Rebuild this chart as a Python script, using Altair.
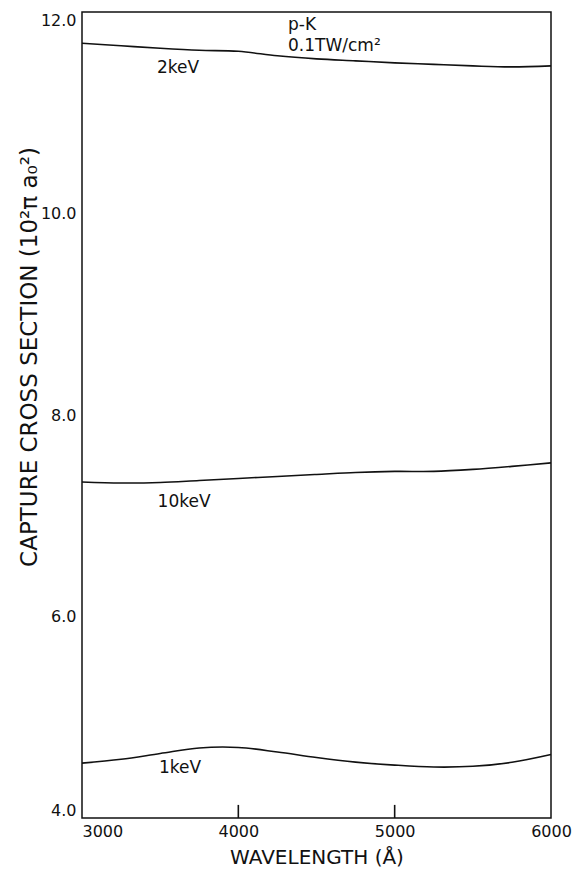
import altair as alt
import pandas as pd

# Wavelength grid (Å) shared by the three curves
wavelength = [3000, 3250, 3500, 3750, 4000, 4250, 4500, 4750, 5000, 5250, 5500, 5750, 6000]

# Capture cross section (10²πa₀²) for each collision energy
sigma_2kev = [11.69, 11.665, 11.64, 11.62, 11.61, 11.565, 11.535, 11.515, 11.495, 11.48, 11.465, 11.455, 11.465]
sigma_10kev = [7.335, 7.325, 7.33, 7.35, 7.37, 7.39, 7.41, 7.43, 7.44, 7.44, 7.46, 7.49, 7.525]
sigma_1kev = [4.545, 4.583, 4.64, 4.695, 4.70, 4.655, 4.60, 4.555, 4.525, 4.506, 4.513, 4.553, 4.63]

energies = ["2keV", "10keV", "1keV"]
x_ticks = [3000, 4000, 5000, 6000]
y_ticks = [4.0, 6.0, 8.0, 10.0, 12.0]
inner_ticks = [4000, 5000]

rows = []
for name, series in zip(energies, [sigma_2kev, sigma_10kev, sigma_1kev]):
    for w, s in zip(wavelength, series):
        rows.append({"energy": name, "wavelength": w, "sigma": s})
df = pd.DataFrame(rows)

FONT = "DejaVu Sans"
INK = "#111111"
W, H = 469, 806

x_scale = alt.Scale(domain=[3000, 6000], nice=False, zero=False)
y_scale = alt.Scale(domain=[4, 12], nice=False, zero=False)

base = alt.Chart(df)

curves = base.mark_line(color=INK, strokeWidth=1.6, interpolate="catmull-rom").encode(
    x=alt.X(
        "wavelength:Q",
        scale=x_scale,
        axis=alt.Axis(
            values=x_ticks,
            format="d",
            title="WAVELENGTH (Å)",
            domain=False,
            ticks=False,
            grid=False,
            labelFont=FONT,
            labelFontSize=16,
            labelColor=INK,
            labelPadding=5,
            labelFlush=False,
            labelOverlap=False,
            labelAlign={"condition": {"test": "datum.value <= 3000", "value": "left"}, "value": "center"},
            titleFont=FONT,
            titleFontSize=20,
            titleFontWeight="normal",
            titleColor=INK,
            titlePadding=8,
        ),
    ),
    y=alt.Y(
        "sigma:Q",
        scale=y_scale,
        axis=alt.Axis(
            values=y_ticks,
            format=".1f",
            title=None,
            domain=False,
            ticks=False,
            grid=False,
            labelFont=FONT,
            labelFontSize=16,
            labelColor=INK,
            labelPadding=6,
            labelOverlap=False,
            labelBaseline={
                "condition": [
                    {"test": "datum.value <= 4", "value": "bottom"},
                    {"test": "datum.value >= 12", "value": "top"},
                ],
                "value": "middle",
            },
        ),
    ),
    detail="energy:N",
)

# Short inward tick marks rising from the wavelength axis
tick_df = pd.DataFrame({"wavelength": inner_ticks})
ticks = alt.Chart(tick_df).mark_rule(color=INK, strokeWidth=1.6).encode(
    x=alt.X("wavelength:Q", scale=x_scale),
    y=alt.datum(4.0, scale=y_scale),
    y2=alt.datum(4.13),
)


def label(text, wl, val, align="center", size=17):
    return alt.Chart(pd.DataFrame({"t": [text]})).mark_text(
        font=FONT, fontSize=size, color=INK, align=align, baseline="middle"
    ).encode(
        x=alt.datum(wl, scale=x_scale),
        y=alt.datum(val, scale=y_scale),
        text="t:N",
    )


labels = [
    label("2keV", 3614, 11.44),
    label("10keV", 3653, 7.137),
    label("1keV", 3627, 4.496),
    label("p-K", 4318, 11.87, align="left"),
    label("0.1TW/cm²", 4318, 11.66, align="left"),
]

# Vertical axis title, drawn as rotated text beside the labels
y_title = alt.Chart(pd.DataFrame({"t": ["CAPTURE CROSS SECTION (10²π a₀²)"]})).mark_text(
    font=FONT, fontSize=23, color=INK, angle=270, align="center", baseline="middle"
).encode(
    x=alt.value(-52),
    y=alt.value(345),
    text="t:N",
)

chart = alt.layer(curves, ticks, *labels, y_title).properties(
    width=W,
    height=H,
    autosize=alt.AutoSizeParams(type="none"),
    padding={"left": 82, "top": 12, "right": 34, "bottom": 51},
    background="white",
).configure_view(stroke=INK, strokeWidth=1.5)

chart.save("out.html", embed_options={"renderer": "svg", "actions": False})
